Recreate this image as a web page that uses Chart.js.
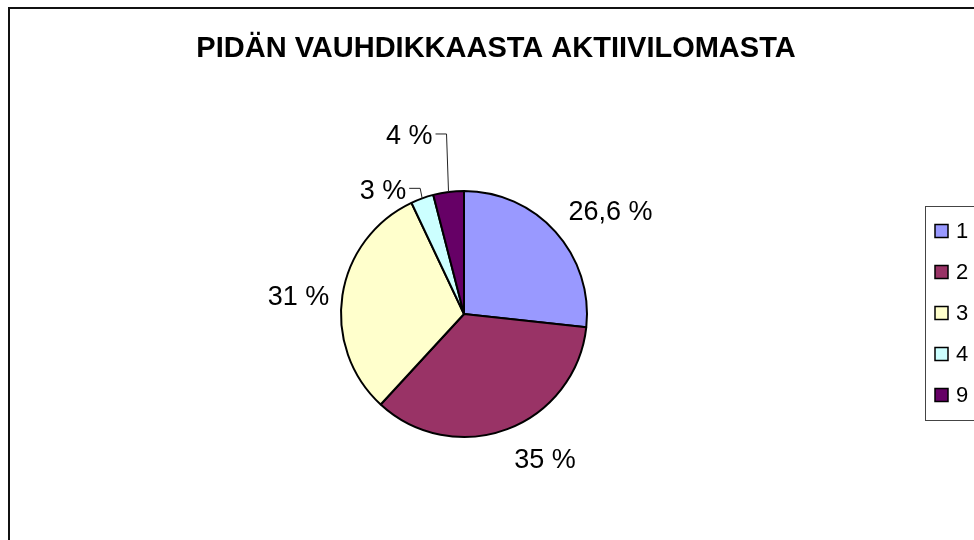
<!DOCTYPE html>
<html>
<head>
<meta charset="utf-8">
<script src="https://cdn.jsdelivr.net/npm/chart.js@4"></script>
<style>
  html, body { margin: 0; padding: 0; background: #fff; overflow: hidden; }
  #wrap { width: 974px; height: 540px; }
</style>
</head>
<body>
<div id="wrap"><canvas id="pieChart" width="974" height="540"></canvas></div>
<script>
var chartTitle = "PIDÄN VAUHDIKKAASTA AKTIIVILOMASTA";
var categories = ["1", "2", "3", "4", "9"];
var shares = [26.6, 35, 31, 3, 4];
var sliceColors = ["#9999FF", "#993366", "#FFFFCC", "#CCFFFF", "#660066"];

function pctLabel(v) {
  return String(v).replace(".", ",") + " %";
}

// frame, title, legend and the outside labels with leader lines
var excelLook = {
  id: "excelLook",
  afterDatasetsDraw: function(chart) {
    var ctx = chart.ctx;
    var meta = chart.getDatasetMeta(0);
    ctx.save();
    ctx.fillStyle = "#000";
    ctx.font = "27px 'Liberation Sans', Arial, sans-serif";
    var small = 0;
    meta.data.forEach(function(arc, i) {
      var v = chart.data.datasets[0].data[i];
      var mid = (arc.startAngle + arc.endAngle) / 2;
      var dx = Math.cos(mid), dy = Math.sin(mid);
      var R = arc.outerRadius;
      var txt = pctLabel(v);
      if (v < 5) {
        // leader line: up from the slice edge, then left to the label
        var ex = arc.x + dx * R, ey = arc.y + dy * R;
        var bx = ex - 2, by = ey - 10 - small * 48;
        ctx.strokeStyle = "#222";
        ctx.lineWidth = 1;
        ctx.beginPath();
        ctx.moveTo(ex, ey);
        ctx.lineTo(bx, by);
        ctx.lineTo(bx - 11, by);
        ctx.stroke();
        ctx.textAlign = "right";
        ctx.textBaseline = "middle";
        ctx.fillText(txt, bx - 14, by + 3);
        small++;
      } else {
        var gap = 12 + 8 * Math.abs(dy);
        var px = arc.x + dx * (R + gap), py = arc.y + dy * (R + gap);
        ctx.textAlign = dx > 0.3 ? "left" : (dx < -0.3 ? "right" : "center");
        if (dy < -0.3) {
          ctx.textBaseline = "alphabetic";
        } else if (dy > 0.3) {
          ctx.textBaseline = "top";
        } else {
          ctx.textBaseline = "middle";
          py += 4;
        }
        ctx.fillText(txt, px, py);
      }
    });
    ctx.restore();
  },
  afterDraw: function(chart) {
    var ctx = chart.ctx;
    ctx.save();
    // outer chart frame (runs off the right and bottom)
    ctx.strokeStyle = "#111";
    ctx.lineWidth = 2;
    ctx.strokeRect(9, 8, 2000, 2000);

    // title
    ctx.fillStyle = "#000";
    ctx.font = "bold 29px 'Liberation Sans', Arial, sans-serif";
    ctx.textAlign = "center";
    ctx.textBaseline = "middle";
    ctx.fillText(chartTitle, 496, 49);

    // legend box
    var lx = 925, ly = 206, step = 41;
    ctx.strokeStyle = "#444";
    ctx.lineWidth = 1;
    ctx.strokeRect(lx + 0.5, ly + 0.5, 200, 25 + step * (categories.length - 1) + 25);
    ctx.font = "22px 'Liberation Sans', Arial, sans-serif";
    ctx.textAlign = "left";
    chart.data.labels.forEach(function(lab, i) {
      var cy = ly + 25 + i * step;
      ctx.fillStyle = chart.data.datasets[0].backgroundColor[i];
      ctx.fillRect(935, cy - 6.5, 13, 13);
      ctx.strokeStyle = "#000";
      ctx.lineWidth = 1.5;
      ctx.strokeRect(935, cy - 6.5, 13, 13);
      ctx.fillStyle = "#000";
      ctx.fillText(lab, 956, cy + 1);
    });
    ctx.restore();
  }
};

new Chart(document.getElementById("pieChart"), {
  type: "pie",
  data: {
    labels: categories,
    datasets: [{
      data: shares,
      backgroundColor: sliceColors,
      borderColor: "#000",
      borderWidth: 2,
      radius: 123
    }]
  },
  options: {
    responsive: false,
    animation: false,
    layout: { padding: { left: 341, right: 387, top: 191, bottom: 103 } },
    plugins: {
      legend: { display: false },
      title: { display: false },
      tooltip: { enabled: false }
    }
  },
  plugins: [excelLook]
});
</script>
</body>
</html>
